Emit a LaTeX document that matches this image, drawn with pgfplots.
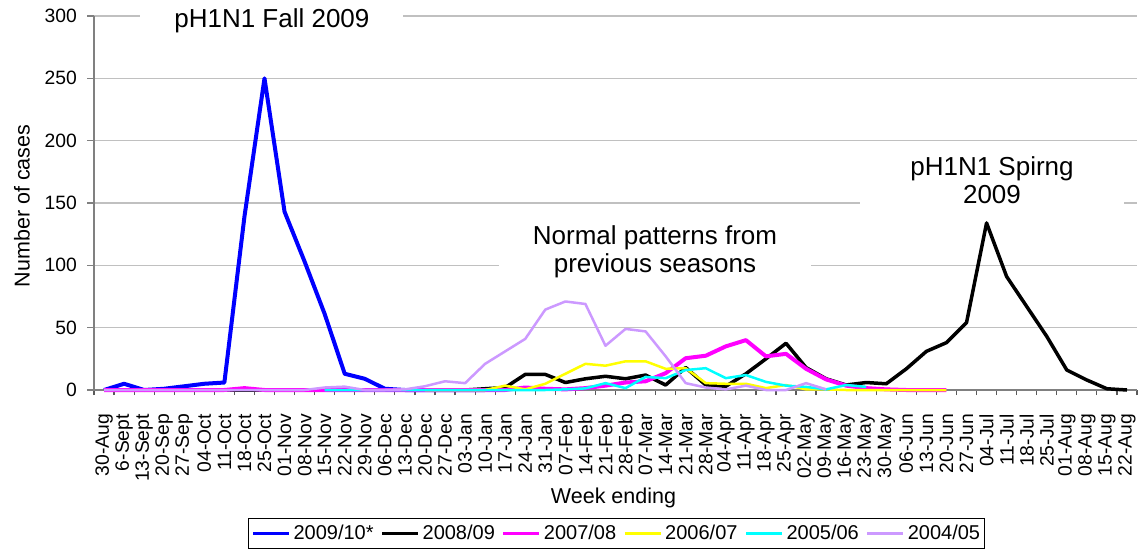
\documentclass[border=0pt]{standalone}
\usepackage{pgfplots}
\pgfplotsset{compat=1.18}
\usepackage{fontspec}
\setmainfont{Liberation Sans}
\definecolor{lav}{RGB}{204,153,255}
\definecolor{gridc}{RGB}{192,192,192}
\definecolor{axc}{RGB}{128,128,128}
\definecolor{tkc}{RGB}{90,90,90}
\definecolor{mag}{RGB}{255,0,255}
\definecolor{yel}{RGB}{255,255,0}
\definecolor{cya}{RGB}{0,255,255}
\definecolor{blu}{RGB}{0,0,255}
\newcommand{\tickfont}{\fontsize{19.3}{22}\selectfont}
\newcommand{\labfont}{\fontsize{21.5}{24}\selectfont}
\newcommand{\legfont}{\fontsize{20}{23}\selectfont}
\newcommand{\annfont}{\fontsize{26}{28}\selectfont}
\begin{document}
\begin{tikzpicture}
\useasboundingbox (0,0) rectangle (1140pt,550pt);
\begin{axis}[
  at={(94pt,160pt)}, anchor=south west,
  scale only axis, width=1043pt, height=374pt,
  xmin=-0.5, xmax=51.5, ymin=0, ymax=300,
  clip=false,
  axis x line*=bottom, axis y line*=left,
  axis line style={draw=axc, line width=1.5pt},
  tick align=outside,
  major tick length=7pt, minor tick length=5pt,
  ytick={0,50,100,150,200,250,300},
  ymajorgrids,
  major grid style={draw=gridc, line width=1.2pt},
  major y tick style={draw=axc, line width=1.2pt},
  major x tick style={draw=none},
  minor x tick style={draw=tkc, line width=1.2pt},
  xtick={0,...,51},
  minor xtick={-0.5,0.5,...,51.5},
  xticklabels={30-Aug,6-Sept,13-Sept,20-Sep,27-Sep,04-Oct,11-Oct,18-Oct,25-Oct,01-Nov,08-Nov,15-Nov,22-Nov,29-Nov,06-Dec,13-Dec,20-Dec,27-Dec,03-Jan,10-Jan,17-Jan,24-Jan,31-Jan,07-Feb,14-Feb,21-Feb,28-Feb,07-Mar,14-Mar,21-Mar,28-Mar,04-Apr,11-Apr,18-Apr,25-Apr,02-May,09-May,16-May,23-May,30-May,06-Jun,13-Jun,20-Jun,27-Jun,04-Jul,11-Jul,18-Jul,25-Jul,01-Aug,08-Aug,15-Aug,22-Aug},
  xticklabel style={rotate=90, anchor=east, font=\tickfont, inner sep=0pt},
  xticklabel shift=17pt,
  yticklabel style={font=\tickfont, inner sep=0pt},
  yticklabel shift=10pt,
  /pgf/number format/assume math mode=true,
  legend columns=6,
  legend style={at={(0.1477,-0.3422)}, anchor=north west, draw=black, line width=1pt, fill=white,
    font=\legfont, inner xsep=3pt, inner ysep=5pt,
    nodes={inner xsep=1pt, inner ysep=2pt},
    /tikz/every even column/.append style={column sep=6pt},
    /tikz/every odd column/.append style={column sep=2pt}},
  legend image code/.code={\draw[#1, line width=3pt] (0pt,0pt) -- (36pt,0pt);},
  every axis plot/.append style={line join=round},
]
\addplot[blu, line width=4pt] coordinates {(0,0)(1,5)(2,0)(3,1)(4,3)(5,5)(6,6)(7,139)(8,250)(9,143)(10,103)(11,61)(12,13)(13,9)(14,1)(15,0)(16,0)(17,0)(18,0)(19,0)};
\addlegendentry{2009/10*}
\addplot[black, line width=3.5pt] coordinates {(0,0)(1,0)(2,0)(3,0)(4,0)(5,0)(6,0)(7,0)(8,0)(9,0)(10,0)(11,0)(12,0)(13,0)(14,0)(15,0)(16,0)(17,0)(18,0)(19,1)(20,2)(21,12.5)(22,12.5)(23,6)(24,9)(25,11)(26,9)(27,12)(28,4)(29,18)(30,4)(31,3)(32,13)(33,25)(34,37.5)(35,18)(36,9)(37,4)(38,6)(39,5)(40,17)(41,31)(42,38)(43,54)(44,134)(45,91)(46,67)(47,43)(48,16)(49,8)(50,1)(51,0)};
\addlegendentry{2008/09}
\addplot[mag, line width=4pt] coordinates {(0,0)(1,0)(2,0)(3,0)(4,0)(5,0)(6,0)(7,1.5)(8,0)(9,0)(10,0)(11,0)(12,0)(13,0)(14,0)(15,0)(16,0)(17,0)(18,0)(19,0)(20,0)(21,2)(22,1)(23,0.5)(24,1.5)(25,3.5)(26,6)(27,7)(28,13.5)(29,25.5)(30,27.5)(31,35)(32,40)(33,27)(34,29)(35,17)(36,8.5)(37,3.5)(38,1.5)(39,0.5)(40,0)(41,0)(42,0)};
\addlegendentry{2007/08}
\addplot[yel, line width=2.5pt] coordinates {(16,0)(17,0)(18,0)(19,0)(20,3.5)(21,0.5)(22,5)(23,13)(24,21)(25,19.5)(26,23)(27,23)(28,17)(29,17.5)(30,5.5)(31,5)(32,5)(33,1.5)(34,4)(35,0.5)(36,0.5)(37,0)(38,0)(39,0)(40,0)(41,0)(42,0)};
\addlegendentry{2006/07}
\addplot[cya, line width=2.5pt] coordinates {(11,0)(12,0)(13,0)(14,0)(15,0)(16,0)(17,0)(18,0)(19,0)(20,0)(21,0)(22,0)(23,0.5)(24,1.3)(25,5.5)(26,1.5)(27,10.5)(28,9.5)(29,16)(30,17.5)(31,9.5)(32,12)(33,6.5)(34,3.5)(35,2.5)(36,0.5)(37,4)(38,2.5)};
\addlegendentry{2005/06}
\addplot[lav, line width=2.5pt] coordinates {(0,0)(1,0)(2,0)(3,0)(4,0)(5,0)(6,0)(7,0)(8,0)(9,0)(10,0)(11,2)(12,2.7)(13,0)(14,0)(15,0.5)(16,3)(17,7)(18,5.5)(19,21)(20,31)(21,41)(22,64.5)(23,71)(24,69)(25,35.5)(26,49)(27,47)(28,27)(29,5.5)(30,2)(31,0.5)(32,3.5)(33,0)(34,0)(35,5.5)(36,0.5)};
\addlegendentry{2004/05}
\node[fill=white, minimum width=263pt, font=\annfont, inner ysep=4pt] at (axis cs:8.37,296) {pH1N1 Fall 2009};
\node[fill=white, minimum width=312pt, font=\annfont, align=center, inner ysep=4pt] at (axis cs:27.47,111) {Normal patterns from\\previous seasons};
\node[fill=white, minimum width=264pt, font=\annfont, align=center, inner ysep=4pt] at (axis cs:44.27,168) {pH1N1 Spirng\\2009};
\end{axis}
\node[rotate=90, font=\labfont] at (22pt,344pt) {Number of cases};
\node[font=\labfont] at (613.5pt,52pt) {Week ending};
\end{tikzpicture}
\end{document}
